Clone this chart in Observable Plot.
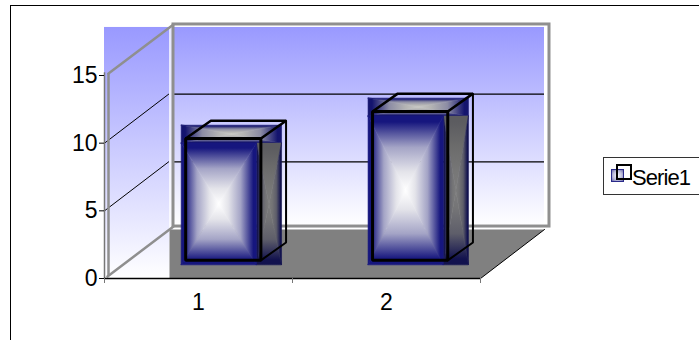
<!DOCTYPE html>
<html>
<head>
<meta charset="utf-8">
<script src="https://cdn.jsdelivr.net/npm/d3@7"></script>
<script src="https://cdn.jsdelivr.net/npm/@observablehq/plot@0.6"></script>
<style>
html,body{margin:0;padding:0;background:#fff;width:699px;height:340px;overflow:hidden;font-family:"Liberation Sans",Arial,sans-serif}
#chart{position:absolute;left:0;top:0}
#frame{position:absolute;left:10px;top:5px;width:800px;height:400px;border:1px solid #000;pointer-events:none}
#legend{position:absolute;left:603px;top:157px;width:200px;height:36px;border:1px solid #333;background:#fff}
#key1{position:absolute;left:7px;top:11px;width:11px;height:11px;border:1.5px solid #2a2a8a;background:radial-gradient(circle,#fff 0%,#b8b8d8 60%,#6a6aa8 100%)}
#key2{position:absolute;left:12px;top:6px;width:12px;height:12px;border:2px solid #000}
#legtxt{position:absolute;left:28px;top:8px;font-size:22px;line-height:24px;color:#000;white-space:nowrap;letter-spacing:-.9px}
</style>
</head>
<body>
<div id="chart"></div>
<div id="frame"></div>
<div id="legend"><div id="key1"></div><div id="key2"></div><div id="legtxt"></div></div>
<script>
const categories = ["1", "2"];
const values = [9, 11];
const seriesName = "Serie1";
const yTicks = [0, 5, 10, 15];
const xTicks = [0, 1, 2];
const gridValues = [5, 10];
const barLeft = [0.296, 1.29];
const barWidth = 0.4;

// oblique projection of the depth axis, in data units
const kx = 0.367, ky = 3.62;
const zFront = 0.37, zBack = 0.735;
const P = (x, v, z) => ({x: x + z * kx, y: v + z * ky});
const poly = (pts, o) => Plot.line(pts, {x: "x", y: "y", curve: "linear-closed", ...o});
const seg = (pts, o) => Plot.line(pts, {x: "x", y: "y", ...o});

const GRAY = "#8f8f8f";
const wallTop = 18.55;
const shift = {dx: -4.5, dy: 4.5};
const px = 1 / 188; // one pixel of the x scale in x units

function face(x1, x2, y1, y2, kind) {
  const c = {x: (x1 + x2) / 2, y: (y1 + y2) / 2};
  const tl = {x: x1, y: y2}, tr = {x: x2, y: y2}, bl = {x: x1, y: y1}, br = {x: x2, y: y1};
  const tri = (pts, d) => {
    const u = `url(#${kind}-${d})`;
    return poly(pts, {fill: u, stroke: u, strokeWidth: 0.6, ...shift});
  };
  return [
    tri([tl, tr, c], "t"),
    tri([bl, br, c], "b"),
    tri([tl, bl, c], "l"),
    tri([tr, br, c], "r")
  ];
}

const barMarks = values.flatMap((v, i) => {
  const L = barLeft[i], R = L + barWidth;
  const fTop = P(L, v, zFront), fBot = P(R, 0, zFront);
  const bTop = P(R, v, zBack);
  return [
    ...face(fTop.x, bTop.x, fTop.y, bTop.y, "top"),
    ...face(fBot.x, bTop.x, fBot.y, fTop.y, "side"),
    ...face(fTop.x, fBot.x, fBot.y, fTop.y, "front")
  ];
});

const outline = {stroke: "#000", strokeWidth: 2.5, strokeLinejoin: "miter"};
const outlineMarks = values.flatMap((v, i) => {
  const L = barLeft[i], R = L + barWidth;
  return [
    poly([P(L, v, zFront), P(R, v, zFront), P(R, v, zBack), P(L, v, zBack)], outline),
    seg([P(R, 0, zFront), P(R, 0, zBack), P(R, v, zBack)], {...outline, strokeWidth: 2}),
    poly([P(L, 0, zFront), P(R, 0, zFront), P(R, v, zFront), P(L, v, zFront)], {...outline, strokeWidth: 3})
  ];
});

const floorBack = {x: 2 + kx - 5 * px, y: ky};

const svg = Plot.plot({
  width: 699,
  height: 340,
  marginLeft: 104,
  marginRight: 219,
  marginTop: 75,
  marginBottom: 62,
  style: {background: "#fff", fontFamily: "'Liberation Sans',Arial,sans-serif", overflow: "visible"},
  x: {domain: [0, 2], range: [104, 480]},
  y: {domain: [0, 15], range: [278, 75]},
  marks: [
    // side wall and back wall
    Plot.rect([0], {x1: 0, x2: kx, y1: 0, y2: wallTop, fill: "url(#wall)"}),
    Plot.rect([0], {x1: kx, x2: kx + 2 - 5 * px, y1: 0.3 + ky, y2: wallTop, fill: "url(#wall)"}),
    Plot.ruleX([kx - 3 * px], {y1: 0, y2: wallTop, stroke: "#fff", strokeOpacity: 0.75, strokeWidth: 3}),
    // floor
    poly([{x: 65 * px, y: ky}, floorBack, {x: 2, y: 0}, {x: 65 * px, y: 0}], {fill: "#808080"}),
    // gridlines
    Plot.ruleY(gridValues.map(v => v + ky), {x1: kx, x2: kx + 2 - 5 * px, stroke: "#000", strokeWidth: 1.2}),
    ...gridValues.map(v => seg([{x: 0, y: v}, {x: kx * 0.93, y: v + ky}], {stroke: "#000", strokeWidth: 1})),
    // wall frame
    Plot.rect([0], {x1: kx, x2: kx + 2, y1: 0.22 + ky, y2: 15.15 + ky, fill: "none", stroke: GRAY, strokeWidth: 3}),
    seg([{x: 4 * px, y: 15.15}, {x: kx, y: 15.15 + ky}], {stroke: GRAY, strokeWidth: 2.5}),
    seg([{x: 3 * px, y: 0.15}, {x: kx, y: 0.22 + ky}], {stroke: GRAY, strokeWidth: 2.5}),
    Plot.ruleX([4 * px], {y1: 0.15, y2: 15.15, stroke: GRAY, strokeWidth: 2.5}),
    // bars
    ...barMarks,
    ...outlineMarks,
    // floor edges and axes
    Plot.ruleX([0], {y1: 0, y2: 15.2, stroke: "#777", strokeWidth: 1.5}),
    Plot.ruleY([0], {x1: 0, x2: 2, stroke: "#000", strokeWidth: 1.3}),
    seg([{x: 2, y: 0}, floorBack], {stroke: "#000", strokeWidth: 1}),
    Plot.ruleX(xTicks, {y1: 0, y2: -0.37, stroke: "#777", strokeWidth: 1}),
    Plot.axisY({ticks: yTicks, tickSize: 5, tickPadding: 2, fontSize: 23, label: null, tickFormat: d => String(d), stroke: "#000", fill: "#000"}),
    Plot.axisX({ticks: [0.5, 1.5], tickSize: 0, tickPadding: 15, fontSize: 23, label: null, tickFormat: (d, i) => categories[i], fill: "#000"})
  ]
});

const stops = (c, n, m, e) =>
  `<stop offset="0" stop-color="${e}"/><stop offset="0.08" stop-color="${e}"/><stop offset="0.42" stop-color="${m}"/><stop offset="0.75" stop-color="${n}"/><stop offset="1" stop-color="${c}"/>`;
const dirs = {t: [0, 0, 0, 1], b: [0, 1, 0, 0], l: [0, 0, 1, 0], r: [1, 0, 0, 0]};
const ramps = {
  front: ["#ffffff", "#e4e4ea", "#a4a4c6", "#16167e"],
  top: ["#c8c8c2", "#b4b4b4", "#8c8ca4", "#14146e"],
  side: ["#7c7c7c", "#747476", "#5e5e6a", "#12124e"]
};
const sideTop = ["#7c7c7c", "#777777", "#6c6c6c", "#5c5c60"];
let defs = `<linearGradient id="wall" x1="0" y1="0" x2="0" y2="1"><stop offset="0" stop-color="#9999ff"/><stop offset="1" stop-color="#fff"/></linearGradient>`;
for (const k in ramps) for (const d in dirs) {
  const [a, b, c, e] = dirs[d];
  const r = k === "side" && d === "t" ? sideTop : ramps[k];
  defs += `<linearGradient id="${k}-${d}" x1="${a}" y1="${b}" x2="${c}" y2="${e}">${stops(...r)}</linearGradient>`;
}
svg.insertAdjacentHTML("afterbegin", `<defs>${defs}</defs>`);
document.getElementById("chart").appendChild(svg);
document.getElementById("legtxt").textContent = seriesName;
</script>
</body>
</html>
